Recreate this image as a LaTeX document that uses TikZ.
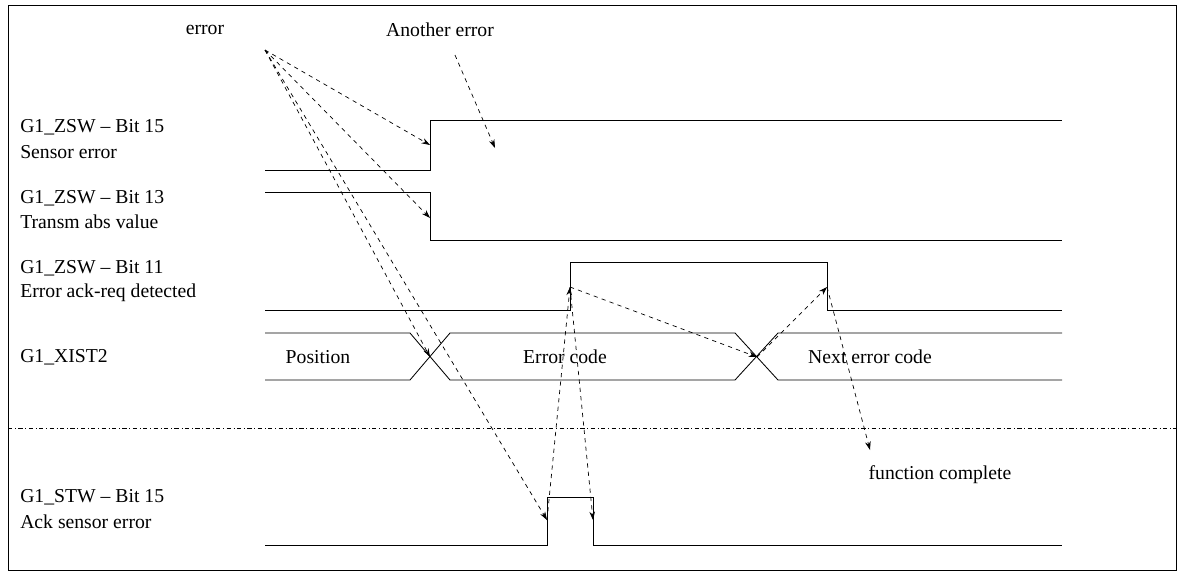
\documentclass[tikz,border=0pt]{standalone}
\usepackage{fontspec}
\setmainfont{Liberation Serif}
\usetikzlibrary{arrows.meta}
\tikzset{
  sig/.style={line width=0.6pt},
  note/.style={dashed,line width=0.5pt,-{Stealth[length=6pt,width=4pt]}},
  lbl/.style={anchor=west,font=\fontsize{14pt}{16pt}\selectfont,inner sep=0pt},
  txt/.style={font=\fontsize{14pt}{16pt}\selectfont,inner sep=0pt}
}
\begin{document}
\begin{tikzpicture}[x=0.025cm,y=-0.025cm]
  % frame
  \useasboundingbox (0,0) rectangle (1184,574);
  \draw[line width=0.5pt] (8,5) rectangle (1176,570);
  \draw[dash dot,line width=0.5pt] (8,428) -- (1176,428);

  % signal names
  \node[lbl] (n1) at (20,127) {G1\_ZSW -- Bit 15};
  \node[lbl] (n1b) at (20,152) {Sensor error};
  \node[lbl] (n2) at (20,198) {G1\_ZSW -- Bit 13};
  \node[lbl] (n2b) at (20,222) {Transm abs value};
  \node[lbl] (n3) at (20,268) {G1\_ZSW -- Bit 11};
  \node[lbl] (n3b) at (20,293) {Error ack-req detected};
  \node[lbl] (n4) at (20,357) {G1\_XIST2};
  \node[lbl] (n5) at (20,497) {G1\_STW -- Bit 15};
  \node[lbl] (n5b) at (20,522) {Ack sensor error};

  % waveforms
  \draw[sig] (265,170) -- (430,170) -- (430,120) -- (1062,120);
  \draw[sig] (265,192) -- (430,192) -- (430,240) -- (1062,240);
  \draw[sig] (265,310) -- (570,310) -- (570,262) -- (827,262) -- (827,310) -- (1062,310);
  \draw[sig] (265,333) -- (410,333) -- (450,380) -- (735,380) -- (778,333) -- (1062,333);
  \draw[sig] (265,380) -- (410,380) -- (450,333) -- (735,333) -- (778,380) -- (1062,380);
  \draw[sig] (265,545) -- (547,545) -- (547,497) -- (593,497) -- (593,545) -- (1062,545);

  % bus values
  \node[txt] (pos) at (318,357) {Position};
  \node[txt] (ec) at (565,357) {Error code};
  \node[txt] (nec) at (870,357) {Next error code};

  % annotations
  \node[txt] (err) at (205,30) {error};
  \node[txt] (aerr) at (440,30) {Another error};
  \node[txt] (fc) at (940,475) {function complete};
  \coordinate (e0) at (265,50);
  \coordinate (a0) at (455,55);
  \coordinate (up15) at (430,145);
  \coordinate (dn13) at (430,218);
  \coordinate (x1) at (430,357);
  \coordinate (x2) at (757,357);
  \coordinate (r11) at (570,287);
  \coordinate (f11) at (827,287);
  \coordinate (ack) at (547,520);
  \coordinate (ackf) at (593,520);
  \coordinate (hi) at (495,148);
  \coordinate (fin) at (870,450);

  \foreach \t in {up15,dn13,x1,ack}
    \draw[note] (e0) -- (\t);
  \draw[note] (a0) -- (hi);
  \draw[note] (ack) -- (r11);
  \draw[note] (r11) -- (ackf);
  \draw[note] (r11) -- (x2);
  \draw[note] (x2) -- (f11);
  \draw[note] (f11) -- (fin);
\end{tikzpicture}
\end{document}
